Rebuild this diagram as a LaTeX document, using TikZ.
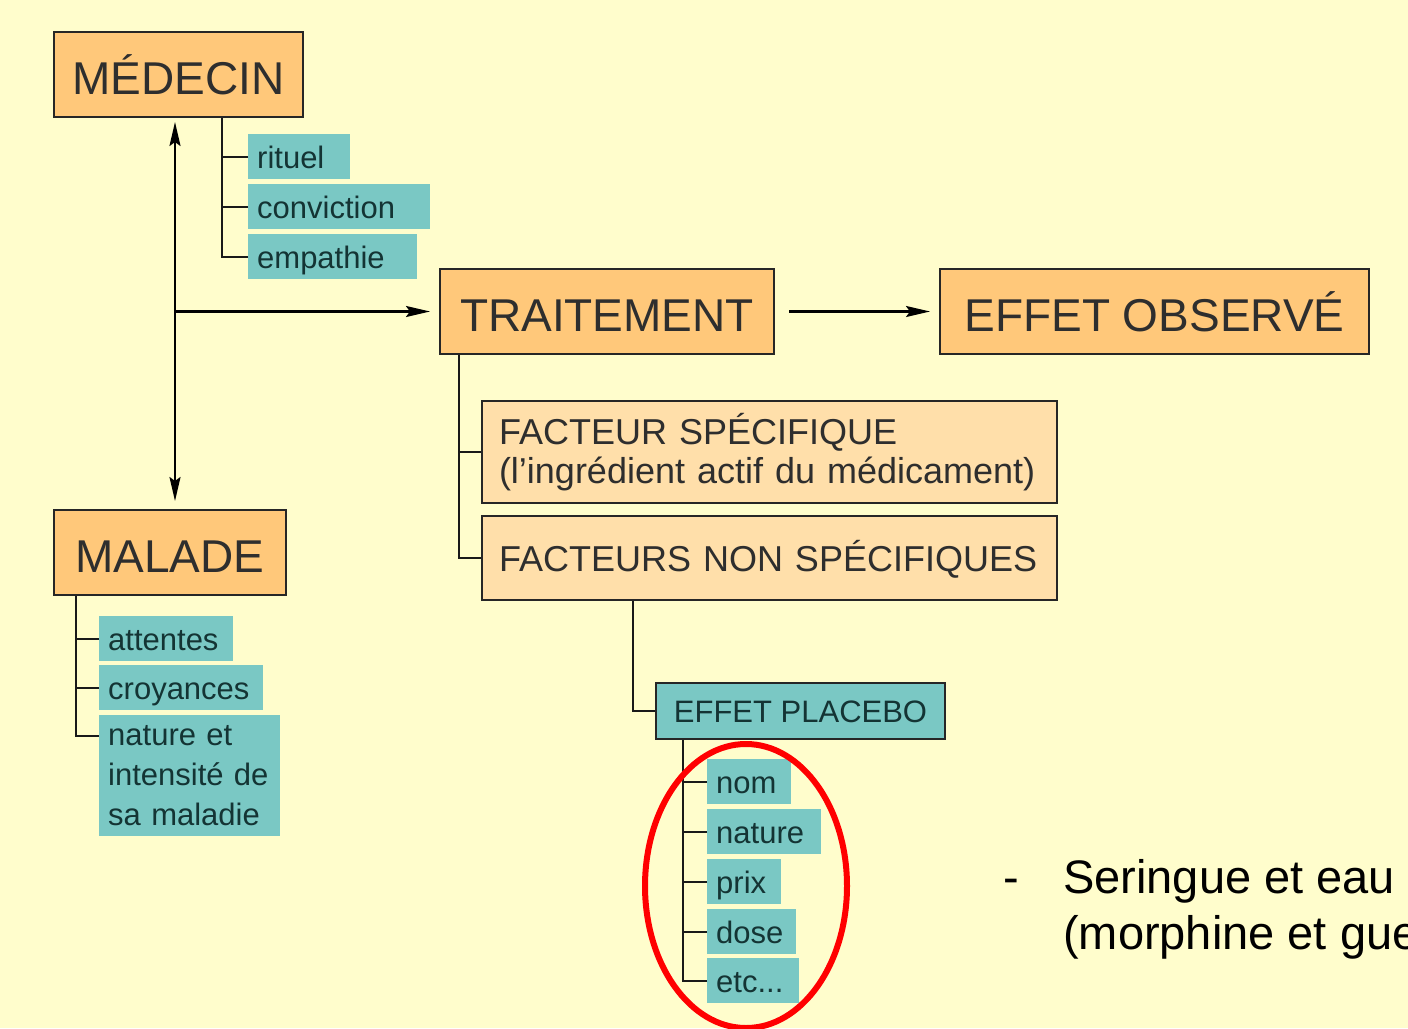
\documentclass[tikz,border=0pt]{standalone}
\usepackage{fontspec}
\setmainfont{Liberation Sans}
\usepackage{tikz}
\usetikzlibrary{positioning, arrows.meta}
\definecolor{fondjaune}{HTML}{FFFDCC}
\definecolor{orangebox}{HTML}{FFC87A}
\definecolor{orangeclair}{HTML}{FFDFAA}
\definecolor{bleuvert}{HTML}{7AC8C4}
\definecolor{textegris}{HTML}{2E2E2E}
\definecolor{textevert}{HTML}{143434}

\begin{document}
\begin{tikzpicture}[x=1pt, y=-1pt,
  grosbloc/.style={draw=black!85, line width=2pt, fill=orangebox, text=textegris, anchor=north west,
    font=\fontsize{46}{50}\selectfont, inner xsep=0pt, inner ysep=12pt, text height=50pt, text depth=11pt},
  moyenbloc/.style={draw=black!85, line width=2pt, fill=orangeclair, text=textegris, anchor=north west,
    font=\fontsize{36}{39}\selectfont, inner xsep=17pt, inner ysep=12pt, align=left},
  tuile/.style={fill=bleuvert, text=textevert, anchor=north west, font=\fontsize{31}{40}\selectfont,
    inner xsep=9pt, inner ysep=7pt, align=left},
  item/.style={tuile, text height=27pt, text depth=4pt},
  placebo/.style={draw=black!85, line width=2pt, fill=bleuvert, text=textevert, anchor=north west,
    font=\fontsize{31}{40}\selectfont, inner xsep=0pt, inner ysep=9pt, text height=30pt, text depth=8pt},
  branche/.style={line width=2.2pt, black!90},
  fleche/.style={line width=2.2pt, >={Stealth[length=24pt, width=11pt, inset=4pt]}},
  texte/.style={font=\fontsize{47}{56}\selectfont, inner sep=0pt, text=black, anchor=base west}]

  \useasboundingbox (0,0) rectangle (1408,1028);
  \fill[fondjaune] (0,0) rectangle (1408,1028);
  \clip (0,0) rectangle (1408,1028);

  % blocs principaux
  \node[grosbloc, minimum width=249pt] (medecin) at (53,31) {MÉDECIN};
  \node[grosbloc, minimum width=334pt] (traitement) at (439,268) {TRAITEMENT};
  \node[grosbloc, minimum width=429pt] (effet) at (939,268) {EFFET OBSERVÉ};
  \node[grosbloc, minimum width=232pt] (malade) at (53,509) {MALADE};

  \node[moyenbloc, text width=541pt, minimum height=99pt] (specifique) at (481,400)
    {FACTEUR SPÉCIFIQUE\\(l’ingrédient actif du médicament)};
  \node[moyenbloc, text width=541pt, text height=43pt, text depth=17pt] (nonspec) at (481,515)
    {FACTEURS NON SPÉCIFIQUES};
  \node[placebo, minimum width=289pt] (placebo) at (655,682) {EFFET PLACEBO};

  % fleches
  \coordinate (axe) at (175,116);
  \draw[fleche, <->, shorten <=6pt, shorten >=8pt] (axe) -- (axe |- malade.north);
  \draw[fleche, ->, shorten >=9pt] (axe |- traitement.west) -- (traitement.west);
  \draw[fleche, ->, shorten <=14pt, shorten >=9pt] (traitement.east) -- (effet.west);

  % medecin
  \coordinate (brmed) at ([xshift=169pt]medecin.south west);
  \foreach \nom/\ypos/\larg in {rituel/134/84, conviction/184/164, empathie/234/151}{
    \node[item, text width=\larg pt] (\nom) at (248,\ypos) {\nom};
    \draw[branche] (\nom.west) -- (\nom.west -| brmed);
  }
  \draw[branche] (brmed) |- (empathie.west);

  % malade
  \coordinate (brmal) at ([xshift=23pt]malade.south west);
  \foreach \nom/\ypos/\larg in {attentes/616/116, croyances/665/146}{
    \node[item, text width=\larg pt] (\nom) at (99,\ypos) {\nom};
    \draw[branche] (\nom.west) -- (\nom.west -| brmal);
  }
  \node[tuile, text width=163pt, minimum height=121pt] (maladie) at (99,715)
    {nature et\\intensité de\\sa maladie};
  \draw[branche] (brmal) |- ([yshift=-21pt]maladie.north west);

  % traitement
  \coordinate (brtr) at ([xshift=20pt]traitement.south west);
  \draw[branche] (specifique.west) -- (specifique.west -| brtr);
  \draw[branche] (brtr) |- (nonspec.west);
  \draw[branche] ([xshift=152pt]nonspec.south west) |- (placebo.west);

  % placebo
  \coordinate (brpla) at ([xshift=28pt]placebo.south west);
  \foreach \nom/\ypos/\larg/\lab in {nom/759/66/nom, nature/809/96/nature, prix/859/56/prix,
      dose/909/71/dose, etc/958/74/{etc...}}{
    \node[item, text width=\larg pt] (\nom) at (707,\ypos) {\lab};
    \draw[branche] (\nom.west) -- (\nom.west -| brpla);
  }
  \draw[branche] (brpla) |- (etc.west);

  \draw[red, line width=6pt] (746,886) ellipse [x radius=101pt, y radius=142pt];

  % texte du bas
  \node[texte] (tiret) at (1003,893) {-};
  \node[texte] (ligne1) at (1063,893) {Seringue et eau};
  \node[texte] (ligne2) at (1063,949) {(morphine et gue};
\end{tikzpicture}
\end{document}
